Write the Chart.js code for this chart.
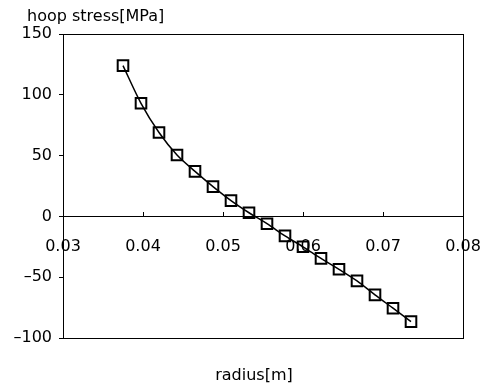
<!DOCTYPE html>
<html>
<head>
<meta charset="utf-8">
<script src="https://cdn.jsdelivr.net/npm/chart.js@4"></script>
<style>
  html, body { margin: 0; padding: 0; background: #fff; }
  #wrap { width: 485px; height: 388px; }
</style>
</head>
<body>
<div id="wrap"><canvas id="c" width="485" height="388"></canvas></div>
<script>
// data
const radius = [0.0375, 0.03975, 0.042, 0.04425, 0.0465, 0.04875, 0.051, 0.05325, 0.0555,
                0.05775, 0.06, 0.06225, 0.0645, 0.06675, 0.069, 0.07125, 0.0735];
const hoopStress = [124, 93, 69, 50.5, 37, 24.5, 13, 3, -6,
                    -16, -25, -34.5, -43.5, -53, -64.5, -75.5, -86.5];
const xTicks = [0.03, 0.04, 0.05, 0.06, 0.07, 0.08];
const yTicks = [-100, -50, 0, 50, 100, 150];
const yTitle = 'hoop stress[MPa]';
const xTitle = 'radius[m]';

const FONT = { family: '"DejaVu Sans", sans-serif', size: 16 };

// box round the plot area, plus the two axis captions
const frame = {
    id: 'frame',
    afterDraw(chart) {
        const a = chart.chartArea, ctx = chart.ctx;
        ctx.save();
        ctx.strokeStyle = '#000';
        ctx.lineWidth = 1;
        ctx.strokeRect(Math.round(a.left) + 0.5, Math.round(a.top) + 0.5,
                       Math.round(a.right - a.left), Math.round(a.bottom - a.top));
        ctx.fillStyle = '#000';
        ctx.font = FONT.size + 'px ' + FONT.family;
        ctx.textBaseline = 'middle';
        ctx.textAlign = 'left';
        ctx.fillText(yTitle, a.left - 36, 17);
        ctx.textAlign = 'center';
        ctx.fillText(xTitle, a.left + 191, 376);
        ctx.restore();
    }
};

new Chart(document.getElementById('c'), {
    type: 'line',
    data: {
        datasets: [{
            data: radius.map((r, i) => ({ x: r, y: hoopStress[i] })),
            borderColor: '#000',
            borderWidth: 1.5,
            tension: 0.3,
            pointStyle: 'rect',
            pointRadius: 7.5,
            pointBorderWidth: 2,
            pointBorderColor: '#000',
            pointBackgroundColor: 'rgba(0,0,0,0)'
        }]
    },
    options: {
        responsive: false,
        animation: false,
        layout: { padding: { left: 4, right: 22, top: 34, bottom: 50 } },
        scales: {
            x: {
                type: 'linear',
                position: { y: 0 },
                min: 0.03, max: 0.08,
                afterBuildTicks: s => { s.ticks = xTicks.map(v => ({ value: v })); },
                afterFit: s => { s.paddingLeft = 0; s.paddingRight = 0; },
                ticks: {
                    color: '#000', font: FONT, padding: 26, maxRotation: 0,
                    callback: v => v.toFixed(2)
                },
                grid: { drawOnChartArea: false, drawTicks: true, tickLength: -5, color: '#000' },
                border: { display: true, color: '#000', width: 1 }
            },
            y: {
                min: -100, max: 150,
                afterBuildTicks: s => { s.ticks = yTicks.map(v => ({ value: v })); },
                ticks: {
                    color: '#000', font: FONT, padding: 7,
                    callback: v => String(v).replace('-', '\u2013')
                },
                grid: { drawOnChartArea: false, drawTicks: true, tickLength: 4, color: '#000' },
                border: { display: true, color: '#000', width: 1 },
                afterFit: s => { s.width = 59; }
            }
        },
        plugins: {
            legend: { display: false },
            tooltip: { enabled: false },
            title: { display: false }
        }
    },
    plugins: [frame]
});
</script>
</body>
</html>
